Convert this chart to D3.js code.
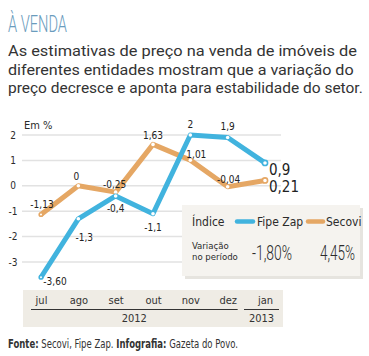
<!DOCTYPE html>
<html><head><meta charset="utf-8">
<script src="https://cdn.jsdelivr.net/npm/d3@7"></script>
<style>
html,body{margin:0;padding:0;background:#fff;}
svg{display:block;}
text{font-family:"Liberation Sans Narrow","DejaVu Sans Condensed","Roboto Condensed",sans-serif;fill:#2b2b2b;}
</style></head>
<body><svg id="c" width="369" height="356"></svg>
<script>
const months = ["jul","ago","set","out","nov","dez","jan"];
const years = [{label:"2012", from:"jul", to:"dez"},{label:"2013", from:"jan", to:"jan"}];
const fipeZap = [-3.60,-1.3,-0.4,-1.1,2,1.9,0.9];
const secovi = [-1.13,0,-0.25,1.63,1.01,-0.04,0.21];
const fipeLabels = ["-3,60","-1,3","-0,4","-1,1","2","1,9","0,9"];
const secoviLabels = ["-1,13","0","-0,25","1,63","1,01","-0,04","0,21"];
const yTicks = [2,1,0,-1,-2,-3];
const variation = {fipe:"-1,80%", secovi:"4,45%"};
const BLUE = "#41b3de", ORANGE = "#e5a764";

const svg = d3.select("#c");
const x = d3.scalePoint().domain(months).range([41,265]);
const y = d3.scaleLinear().domain([-3,2]).range([262,135]);

// fit a text to a width using a horizontal scale transform
function fit(sel, x0, y0, w){
  sel.attr("x",0).attr("y",0);
  const nat = sel.node().getComputedTextLength();
  const k = w / nat;
  sel.attr("transform",`translate(${x0},${y0}) scale(${k},1)`);
  return sel;
}

// title
fit(svg.append("text").text("À VENDA")
  .style("font-family","Roboto").style("font-weight","300").style("font-size","23px").style("fill","#6a9cbd"), 8, 32, 59);
// subtitle
const sub = ["As estimativas de preço na venda de imóveis de","diferentes entidades mostram que a variação do","preço decresce e aponta para estabilidade do setor."];
const subW = [349, 346, 355];
const subY = [56, 74.5, 93];
sub.forEach((s,i)=>{
  fit(svg.append("text").text(s)
    .style("font-family","Roboto").style("font-size","15.5px").style("fill","#333"), 8, subY[i], subW[i]);
});

// Em %
svg.append("text").attr("x",24).attr("y",129).text("Em %").style("font-size","11px");

// grid
const gridG = svg.append("g");
yTicks.forEach(t=>{
  gridG.append("line").attr("x1",22).attr("x2",281).attr("y1",y(t)).attr("y2",y(t))
    .attr("stroke","#e2e2e2").attr("stroke-width",1.5);
  gridG.append("text").attr("x",13).attr("y",y(t)+3.5).attr("text-anchor","middle").text(t).style("font-size","10px");
});

// bottom band
svg.append("rect").attr("x",23).attr("y",290).attr("width",260).attr("height",37).attr("fill","#efece5");
const axisG = svg.append("g").attr("transform","translate(0,304)");
const xAxis = d3.axisBottom(x).tickSize(0).tickPadding(0);
axisG.call(xAxis);
axisG.select(".domain").remove();
axisG.selectAll("text").attr("y",0).attr("dy",0).style("font-size","11px").style("fill","#333")
  .style("font-family","'Liberation Sans Narrow','DejaVu Sans Condensed',sans-serif");
years.forEach(yr=>{
  const x0 = yr.from===yr.to ? x(yr.from)-21 : x(yr.from)-10;
  const x1 = yr.from===yr.to ? x(yr.to)+14 : x(yr.to)+10;
  svg.append("line").attr("x1",x0).attr("x2",x1).attr("y1",309.5).attr("y2",309.5).attr("stroke","#333").attr("stroke-width",1);
  svg.append("text").attr("x",(x0+x1)/2).attr("y",322).attr("text-anchor","middle").text(yr.label).style("font-size","11px").style("fill","#333");
});

// lines
const line = d3.line().x((d,i)=>x(months[i])).y(d=>y(d));
function series(vals, color){
  svg.append("path").datum(vals).attr("d",line).attr("fill","none").attr("stroke",color)
    .attr("stroke-width",5).attr("stroke-linejoin","round");
  svg.selectAll(null).data(vals).enter().append("circle")
    .attr("cx",(d,i)=>x(months[i])).attr("cy",d=>y(d))
    .attr("r",(d,i)=> (i===vals.length-1) ? 2.6 : 1.8)
    .attr("fill","#fff").attr("stroke",(d,i)=> (i===vals.length-1||i===0) ? color : "none").attr("stroke-width",1.6);
}
series(secovi, ORANGE);
series(fipeZap, BLUE);

// data labels: offsets (dx, dy, anchor, size)
const fipeOff = [[14,4,"middle",10],[6,19,"middle",10],[0,13,"middle",10],[0,14,"middle",10],[0,-11,"middle",10],[0,-11,"middle",10],[4,7,"start",15]];
const secOff = [[1,-10,"middle",10],[-2,-9,"middle",10],[-1,-8,"middle",10],[0,-9,"middle",10],[6,-6,"middle",10],[1,-7,"middle",10],[4,6,"start",15]];
function labels(vals, labs, off){
  vals.forEach((v,i)=>{
    const o = off[i];
    svg.append("text").attr("x",x(months[i])+o[0]).attr("y",y(v)+o[1]+o[3]*0.35)
      .attr("text-anchor",o[2]).text(labs[i]).style("font-size",o[3]+"px").style("fill","#222");
  });
}
labels(fipeZap, fipeLabels, fipeOff);
labels(secovi, secoviLabels, secOff);

// legend box
svg.append("rect").attr("x",185).attr("y",208).attr("width",178).attr("height",71).attr("fill","#e6e4df");
svg.append("rect").attr("x",182).attr("y",205).attr("width",178).attr("height",71).attr("fill","#f5f3ef");
svg.append("text").attr("x",192).attr("y",226).text("Índice").style("font-size","12px");
svg.append("line").attr("x1",237).attr("x2",253).attr("y1",221.5).attr("y2",221.5).attr("stroke",BLUE).attr("stroke-width",4.5).attr("stroke-linecap","round");
svg.append("text").attr("x",257).attr("y",226).text("Fipe Zap").style("font-size","12px");
svg.append("line").attr("x1",308).attr("x2",323).attr("y1",221.5).attr("y2",221.5).attr("stroke",ORANGE).attr("stroke-width",4.5).attr("stroke-linecap","round");
svg.append("text").attr("x",326).attr("y",226).text("Secovi").style("font-size","12px");
svg.append("text").attr("x",192).attr("y",249).text("Variação").style("font-size","9.5px");
svg.append("text").attr("x",192).attr("y",259.8).text("no período").style("font-size","9.5px");
fit(svg.append("text").text(variation.fipe).style("font-size","21px").style("font-family","Roboto").style("font-weight","300"), 252, 259.5, 40);
fit(svg.append("text").text(variation.secovi).style("font-size","21px").style("font-family","Roboto").style("font-weight","300"), 320, 259.5, 35);

// footer
const f = svg.append("text").style("font-size","12px").style("fill","#333");
f.append("tspan").text("Fonte:").style("font-weight","bold");
f.append("tspan").text(" Secovi, Fipe Zap. ");
f.append("tspan").text("Infografia:").style("font-weight","bold");
f.append("tspan").text(" Gazeta do Povo.");
fit(f, 8, 348, 230);
</script></body></html>
